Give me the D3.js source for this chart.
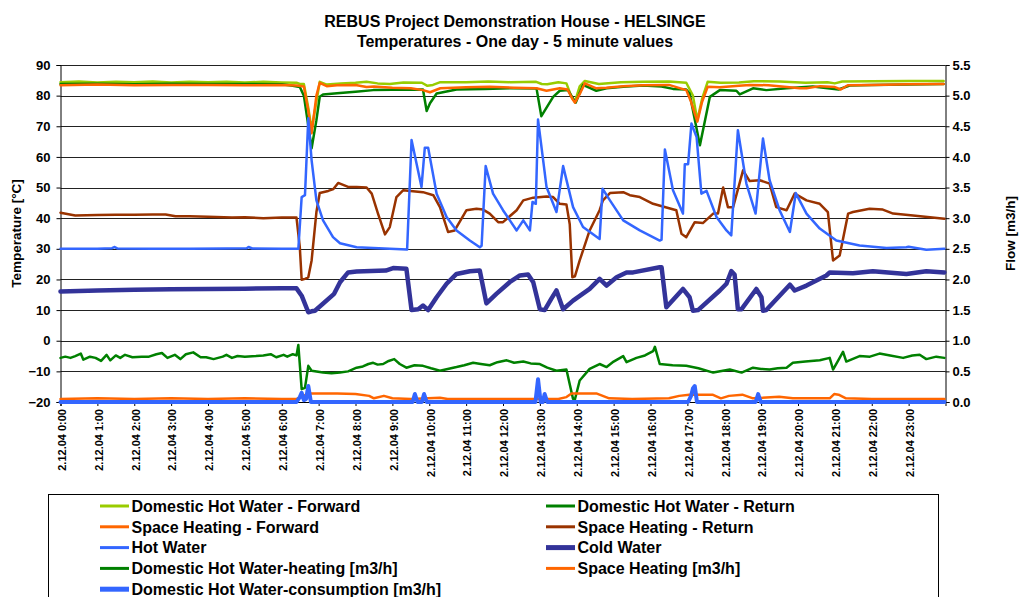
<!DOCTYPE html>
<html>
<head>
<meta charset="utf-8">
<script src="https://cdn.jsdelivr.net/npm/d3@7"></script>
<style>
  html, body { margin: 0; padding: 0; background: #fff; }
  svg { display: block; font-family: "Liberation Sans", Arial, sans-serif; font-weight: bold; }
</style>
</head>
<body>
<svg id="chart" width="1021" height="597"></svg>
<script>
// ---- Data: [hour of day, value] ----
// Temperatures (°C, left axis)
const dhwForward = [[0,84.4],[0.5,84.6],[1,84.3],[1.5,84.5],[2,84.4],[2.5,84.6],[3,84.3],[3.5,84.5],[4,84.4],[4.5,84.5],[5,84.3],[5.5,84.5],[6,84.3],[6.4,84.2],[6.49,83.8],[6.6,83.8],[6.72,76],[6.81,69],[6.94,78],[7.03,84.5],[7.22,83.6],[7.6,84],[8.0,84.2],[8.3,84.5],[8.6,84],[8.93,83.8],[9.3,84.3],[9.8,84.2],[9.95,83.2],[10.1,83.5],[10.3,84.4],[11,84.4],[11.6,84.6],[12.2,84.4],[12.9,84.5],[13.05,83.8],[13.2,83.7],[13.5,84.4],[13.72,84],[13.86,79.5],[13.95,78],[14.08,83],[14.22,84.8],[14.6,83.8],[15.2,84.4],[15.8,84.5],[16.5,84.6],[16.97,84.2],[17.15,80],[17.27,72],[17.4,79],[17.55,84.5],[17.9,84.2],[18.4,84.3],[18.8,84.7],[19.5,84.6],[20.2,84.2],[20.8,84.4],[21.0,84],[21.2,84.6],[22,84.7],[23,84.8],[23.95,84.8]];
const dhwReturn = [[0,83.8],[1,83.9],[2,83.7],[3,83.9],[4,83.8],[5,83.8],[6,83.7],[6.3,83.2],[6.49,82.8],[6.6,80],[6.81,62.8],[6.94,72],[7.03,79.6],[7.12,80.4],[7.5,80.8],[8.0,81.3],[8.48,81.8],[9.0,81.9],[9.83,82],[9.93,75],[10.02,77.5],[10.2,80.7],[10.74,82],[11.5,82.2],[12.2,82.4],[12.91,82.3],[13.04,73.3],[13.36,79.6],[13.54,81.6],[13.76,81.8],[13.97,77.7],[14.17,83.5],[14.53,81.6],[14.81,82.4],[15.26,82.9],[15.8,83.3],[16.3,83],[16.61,82.2],[16.97,82],[17.06,80.7],[17.34,63.8],[17.61,79.6],[17.88,81.8],[18.33,81.6],[18.42,80.4],[18.78,82.4],[19.14,81.8],[19.69,82.4],[20.4,83],[21.1,82],[21.4,83.3],[22,83.5],[23,83.6],[23.95,83.8]];
const shForward = [[0,83.4],[1,83.6],[2,83.4],[3,83.5],[4,83.5],[5,83.4],[6,83.5],[6.4,83.3],[6.6,83],[6.72,75],[6.81,67.7],[6.94,80],[7.03,84.2],[7.22,83.1],[7.5,83.4],[8.0,83.5],[8.3,82.8],[8.5,83],[9.0,82.6],[9.5,82.4],[9.83,81.8],[10.02,81.1],[10.3,82.4],[11,82.7],[11.64,82.9],[12.3,82.6],[12.91,82.4],[13.18,81.6],[13.54,82.4],[13.75,82],[13.88,79],[13.95,77.7],[14.1,81],[14.22,84],[14.53,82.4],[14.8,82.6],[15.26,83.1],[15.8,83.4],[16.5,83.5],[16.97,81.8],[17.1,78],[17.27,71.5],[17.4,78],[17.55,82.9],[17.88,82.7],[18.4,83.2],[18.69,83.5],[19.2,83.4],[20.05,82.4],[20.23,82.4],[20.6,83.1],[21.0,82.8],[21.16,82],[21.35,83.4],[22,83.5],[23,83.7],[23.95,83.8]];
const shReturn = [[0,41.8],[0.4,40.9],[1,41],[1.5,41.1],[2,41.1],[2.5,41.2],[2.85,41.2],[3.12,40.6],[3.5,40.6],[4,40.5],[4.65,40.2],[5,40.3],[5.5,40],[6,40.2],[6.4,40.2],[6.49,30.5],[6.54,19.9],[6.63,20.2],[6.72,20.7],[6.81,26.2],[6.94,42],[7.03,48.2],[7.26,48.9],[7.4,49.5],[7.53,51.5],[7.8,50.2],[8.03,50.2],[8.3,50],[8.44,48],[8.61,41.5],[8.8,34.7],[8.93,37.1],[9.11,46.9],[9.29,49.1],[9.83,48.5],[10.11,47.5],[10.29,43.6],[10.51,35.5],[10.69,36],[11.01,42.6],[11.28,43.1],[11.46,42.8],[11.64,41.5],[11.87,38.7],[12.0,38.7],[12.37,42.6],[12.55,45.8],[12.82,46.7],[13.18,47.1],[13.36,46.9],[13.54,44.7],[13.72,44.5],[13.81,38],[13.88,20.7],[13.95,21],[14.08,26.2],[14.35,36],[14.62,42.6],[14.71,45.8],[14.9,48.2],[15.26,48.5],[15.44,47.5],[15.71,46.9],[16.07,44.7],[16.7,42.6],[16.84,34.9],[16.97,33.8],[17.2,38.7],[17.42,38.4],[17.7,41.5],[17.83,41.5],[17.97,50],[18.1,43.6],[18.24,43.6],[18.51,55.6],[18.69,52.1],[18.96,52.4],[19.23,51.3],[19.41,43.6],[19.69,42.6],[19.91,48],[20.23,45.8],[20.59,44.7],[20.81,42],[20.95,26.2],[21.13,27.8],[21.36,41.5],[21.49,42],[21.94,43.1],[22.3,42.8],[22.58,41.5],[23.12,40.9],[23.97,39.8]];
const hotWater = [[0,30],[1.0,30],[1.4,30.2],[1.46,30.6],[1.55,30.1],[2.5,30],[3.5,30],[4.5,30.1],[5.05,30.2],[5.1,30.6],[5.2,30.1],[6.0,30],[6.45,30],[6.54,46.9],[6.63,47.5],[6.72,72.6],[6.81,58.9],[6.94,45.8],[7.12,39.3],[7.39,33.8],[7.58,31.8],[8.03,30.5],[8.93,30],[9.4,29.8],[9.52,65.5],[9.79,50.2],[9.88,63],[9.97,63],[10.2,48],[10.47,40.4],[10.74,36],[11.1,32.7],[11.37,30.5],[11.42,31],[11.53,57],[11.73,48],[12.0,42.6],[12.37,36],[12.55,39.3],[12.73,36],[12.8,45.3],[12.89,44.7],[12.95,72.2],[13.18,50.2],[13.45,42],[13.63,57],[13.9,43.6],[14.17,37.1],[14.62,33.2],[14.7,49.6],[14.9,45.8],[15.26,39.3],[15.71,36],[16.25,32.7],[16.3,33],[16.39,62.4],[16.61,49.1],[16.88,41.5],[16.93,57.6],[17.02,57.6],[17.11,70.9],[17.25,66.5],[17.38,48],[17.52,48.9],[17.79,40.4],[18.06,36],[18.19,34.4],[18.37,68.7],[18.6,51.3],[18.85,41.5],[19.05,66],[19.23,52.4],[19.5,42.6],[19.78,35.5],[19.94,48.2],[20.23,41.5],[20.59,36.6],[21.04,32.7],[21.67,31.1],[22.4,30.3],[22.94,30.5],[23.0,30.7],[23.48,29.7],[23.97,30]];
const coldWater = [[0,16.1],[1,16.4],[2,16.6],[3,16.8],[4,16.9],[5,17],[6,17.1],[6.4,17.1],[6.54,14.7],[6.72,9.3],[6.81,9.6],[6.9,9.8],[7.42,15.3],[7.58,19.1],[7.8,22.3],[8.03,22.6],[8.82,22.9],[9.02,23.7],[9.38,23.5],[9.52,10],[9.7,10.3],[9.83,11.5],[9.97,10],[10.2,14.2],[10.47,18.6],[10.74,21.8],[11.1,22.7],[11.37,22.9],[11.55,12.2],[11.82,15.3],[12.18,19.1],[12.46,21.3],[12.68,21.6],[12.82,19.1],[13.0,10.3],[13.13,10],[13.32,13.9],[13.45,16.4],[13.63,10.3],[13.9,13.1],[14.35,16.9],[14.62,20.2],[14.81,18],[15.08,20.7],[15.35,22.3],[15.53,22.3],[16.25,24],[16.3,24],[16.43,10.9],[16.88,16.9],[17.06,14.2],[17.15,9.8],[17.29,10],[17.88,16.4],[18.06,18.6],[18.19,22.7],[18.28,21.6],[18.37,10.3],[18.47,10.3],[18.87,16.9],[19.01,14.2],[19.05,9.8],[19.14,10],[19.78,18.3],[19.91,16.4],[20.23,18],[20.77,21.3],[20.86,22.3],[21.49,22],[22.03,22.7],[22.94,21.8],[23.48,22.7],[23.97,22.3]];

// Flows (m3/h, right axis)
const dhwHeatingFlow = [[0,0.72],[0.13,0.74],[0.27,0.72],[0.4,0.75],[0.55,0.79],[0.62,0.69],[0.8,0.74],[0.95,0.72],[1.1,0.67],[1.25,0.77],[1.35,0.68],[1.5,0.76],[1.62,0.72],[1.75,0.77],[1.95,0.73],[2.2,0.74],[2.4,0.74],[2.6,0.78],[2.75,0.8],[2.9,0.72],[3.1,0.77],[3.25,0.7],[3.4,0.78],[3.6,0.81],[3.8,0.73],[3.95,0.73],[4.15,0.7],[4.4,0.74],[4.5,0.77],[4.65,0.72],[4.8,0.75],[5.0,0.74],[5.3,0.75],[5.5,0.76],[5.7,0.78],[5.85,0.73],[6.05,0.77],[6.15,0.74],[6.3,0.78],[6.4,0.76],[6.45,0.93],[6.54,0.21],[6.63,0.23],[6.72,0.59],[6.81,0.51],[7.12,0.48],[7.35,0.47],[7.58,0.48],[7.8,0.5],[8.03,0.56],[8.2,0.58],[8.35,0.62],[8.48,0.64],[8.6,0.61],[8.75,0.62],[8.9,0.67],[9.05,0.7],[9.2,0.62],[9.38,0.56],[9.6,0.6],[9.83,0.59],[10.05,0.55],[10.29,0.51],[10.5,0.54],[10.74,0.57],[10.95,0.6],[11.19,0.64],[11.4,0.62],[11.64,0.6],[11.85,0.65],[12.1,0.68],[12.3,0.64],[12.55,0.66],[12.75,0.63],[13.0,0.62],[13.2,0.56],[13.45,0.51],[13.72,0.53],[13.9,0.05],[13.95,0.04],[14.08,0.35],[14.35,0.54],[14.62,0.62],[14.81,0.57],[15.0,0.66],[15.26,0.75],[15.35,0.65],[15.62,0.72],[15.85,0.76],[16.07,0.83],[16.12,0.9],[16.25,0.62],[16.6,0.6],[16.97,0.59],[17.3,0.55],[17.7,0.48],[18.15,0.53],[18.47,0.48],[18.78,0.56],[19.0,0.54],[19.23,0.53],[19.45,0.55],[19.69,0.56],[19.86,0.64],[20.2,0.66],[20.59,0.68],[20.86,0.72],[20.95,0.53],[21.13,0.72],[21.22,0.82],[21.31,0.66],[21.67,0.75],[21.95,0.74],[22.21,0.79],[22.5,0.76],[22.85,0.72],[23.1,0.76],[23.3,0.77],[23.48,0.7],[23.75,0.74],[23.97,0.72]];
const shFlow = [[0,0.05],[1,0.06],[2,0.05],[3,0.06],[4,0.05],[5,0.06],[6,0.05],[6.4,0.05],[6.6,0.1],[6.72,0.14],[7.5,0.14],[8.0,0.13],[8.37,0.1],[8.5,0.06],[8.77,0.1],[9.0,0.06],[9.5,0.05],[10.29,0.07],[10.5,0.05],[12,0.05],[13.5,0.05],[13.72,0.08],[13.86,0.14],[14.53,0.14],[14.88,0.06],[15.5,0.05],[16.5,0.06],[16.78,0.1],[17.05,0.12],[17.68,0.12],[17.91,0.06],[18.13,0.1],[18.49,0.12],[18.78,0.06],[19.49,0.085],[19.86,0.06],[20.86,0.06],[20.98,0.13],[21.1,0.12],[21.3,0.06],[22,0.05],[23,0.05],[23.97,0.05]];
const dhwConsumptionFlow = [[0,0],[6.4,0],[6.49,0.08],[6.54,0.15],[6.6,0.03],[6.66,0.05],[6.72,0.26],[6.79,0],[9.55,0],[9.61,0.13],[9.68,0],[9.8,0],[9.86,0.13],[9.93,0],[12.88,0],[12.95,0.37],[13.02,0],[13.08,0],[13.13,0.13],[13.2,0],[17.02,0],[17.1,0.1],[17.15,0.22],[17.2,0.26],[17.26,0],[18.85,0],[18.92,0.13],[18.99,0],[23.97,0]];

// Axis ticks and labels
const hourTicks = d3.range(0, 24);
const hourLabels = hourTicks.map(h => "2.12.04 " + h + ":00");
const tempTicks = d3.range(-20, 91, 10);
const flowTicks = d3.range(0, 5.51, 0.5);

const titleLines = ["REBUS Project Demonstration House - HELSINGE", "Temperatures - One day - 5 minute values"];

// Series definitions (drawing order = legend order)
const series = [
  { name: "Domestic Hot Water - Forward", data: dhwForward, axis: "L", color: "#99CC00", width: 2.5 },
  { name: "Domestic Hot Water - Return", data: dhwReturn, axis: "L", color: "#008000", width: 2.5 },
  { name: "Space Heating - Forward", data: shForward, axis: "L", color: "#FF6600", width: 2.5 },
  { name: "Space Heating - Return", data: shReturn, axis: "L", color: "#993300", width: 2.5 },
  { name: "Hot Water", data: hotWater, axis: "L", color: "#3366FF", width: 2.5 },
  { name: "Cold Water", data: coldWater, axis: "L", color: "#333399", width: 4.5 },
  { name: "Domestic Hot Water-heating [m3/h]", data: dhwHeatingFlow, axis: "R", color: "#008000", width: 2.5 },
  { name: "Space Heating [m3/h]", data: shFlow, axis: "R", color: "#FF6600", width: 2.5 },
  { name: "Domestic Hot Water-consumption [m3/h]", data: dhwConsumptionFlow, axis: "R", color: "#3366FF", width: 4 }
];

// ---- Layout ----
const plot = { left: 60.5, right: 945.5, top: 65, bottom: 402 };

const x = d3.scaleLinear().domain([0, 24]).range([plot.left, plot.right]);
const yL = d3.scaleLinear().domain([-20, 90]).range([plot.bottom, plot.top]);
const yR = d3.scaleLinear().domain([0, 5.5]).range([plot.bottom, plot.top]);

const svg = d3.select("#chart");

// Title
svg.append("g").selectAll("text").data(titleLines).join("text")
  .attr("x", 515).attr("y", (d, i) => 27 + i * 20)
  .attr("text-anchor", "middle").attr("font-size", 16)
  .text(d => d);

// Horizontal gridlines
svg.append("g").selectAll("line").data(tempTicks).join("line")
  .attr("x1", plot.left).attr("x2", plot.right)
  .attr("y1", d => Math.round(yL(d)) + 0.5).attr("y2", d => Math.round(yL(d)) + 0.5)
  .attr("stroke", "#222").attr("stroke-width", 1);

// Left axis
const gL = svg.append("g").attr("transform", `translate(${plot.left},0)`)
  .call(d3.axisLeft(yL).tickValues(tempTicks).tickSize(4).tickPadding(6).tickFormat(d3.format("d")));
gL.selectAll("text").attr("font-size", 13).attr("font-family", null).attr("font-weight", "bold").attr("fill", "#000");
gL.selectAll("line,path").attr("stroke", "#000");

// Right axis
const gR = svg.append("g").attr("transform", `translate(${plot.right},0)`)
  .call(d3.axisRight(yR).tickValues(flowTicks).tickSize(4).tickPadding(3).tickFormat(d3.format(".1f")));
gR.selectAll("text").attr("font-size", 13).attr("font-family", null).attr("font-weight", "bold").attr("fill", "#000");
gR.selectAll("line,path").attr("stroke", "#000");

// Bottom (time) axis
const gB = svg.append("g").attr("transform", `translate(0,${plot.bottom})`)
  .call(d3.axisBottom(x).tickValues(hourTicks).tickSize(4).tickFormat((d, i) => hourLabels[i]));
gB.selectAll("line,path").attr("stroke", "#000");
gB.selectAll("text")
  .attr("font-size", 11).attr("font-family", null).attr("font-weight", "bold").attr("fill", "#000")
  .attr("text-anchor", "end")
  .attr("transform", "translate(1,7) rotate(-90)")
  .attr("x", 0).attr("y", 0).attr("dy", "0.35em");

// Axis titles
svg.append("text").attr("transform", "translate(21,233.5) rotate(-90)")
  .attr("text-anchor", "middle").attr("font-size", 13.5).text("Temperature [°C]");
svg.append("text").attr("transform", "translate(1015,233.5) rotate(-90)")
  .attr("text-anchor", "middle").attr("font-size", 13.5).text("Flow [m3/h]");

// Series lines
const lineFor = s => d3.line()
  .x(d => x(d[0]))
  .y(d => (s.axis === "L" ? yL : yR)(d[1]));

svg.append("g").selectAll("path").data(series).join("path")
  .attr("d", s => lineFor(s)(s.data))
  .attr("fill", "none")
  .attr("stroke", s => s.color)
  .attr("stroke-width", s => s.width)
  .attr("stroke-linejoin", "round")
  .attr("stroke-linecap", "round");

// Legend
const legend = svg.append("g");
legend.append("rect")
  .attr("x", 48.5).attr("y", 494.5).attr("width", 890).attr("height", 120)
  .attr("fill", "#fff").attr("stroke", "#000").attr("stroke-width", 1);

const items = legend.selectAll("g.item").data(series).join("g")
  .attr("class", "item")
  .attr("transform", (d, i) => `translate(${i % 2 === 0 ? 100 : 546},${506 + Math.floor(i / 2) * 20.8})`);
items.append("line")
  .attr("x1", 0).attr("x2", 29).attr("y1", 0).attr("y2", 0)
  .attr("stroke", d => d.color).attr("stroke-width", d => d.width > 3 ? 5 : 3);
items.append("text")
  .attr("x", 31.5).attr("y", 0).attr("dy", "0.36em")
  .attr("font-size", 16).text(d => d.name);
</script>
</body>
</html>
